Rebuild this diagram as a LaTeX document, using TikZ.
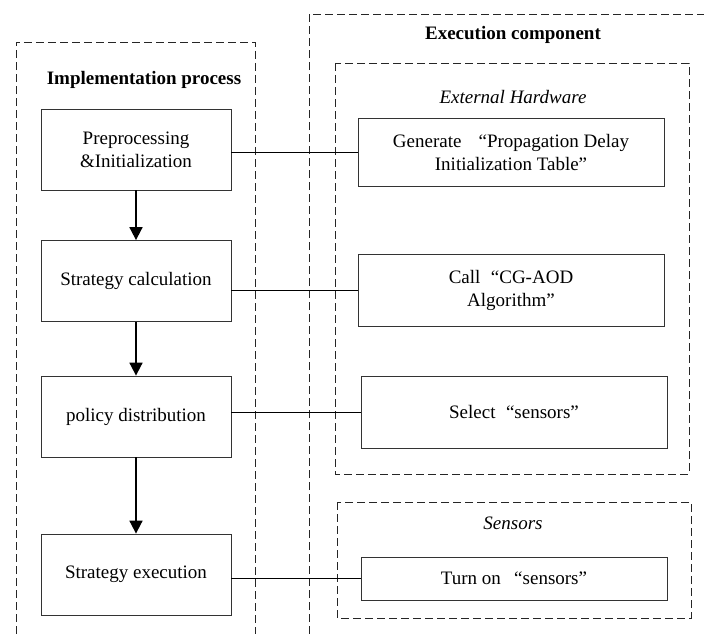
\documentclass[tikz,border=0pt]{standalone}
\usepackage{fontspec}
\setmainfont{Liberation Serif}
\usetikzlibrary{arrows.meta,positioning}

\begin{document}
\begin{tikzpicture}[x=1pt,y=-1pt]
\tikzset{
	step box/.style = {draw = black!80, line width = 0.8pt, fill = white, align = center, inner sep = 0, font = \fontsize{19}{23}\selectfont},
	left box/.style = {step box, minimum width = 190pt, minimum height = 81pt},
	right box/.style = {step box, minimum width = 306pt},
	group box/.style = {draw = black!85, line width = 0.8pt, dash pattern = on 8pt off 4pt},
	group title/.style = {font = \fontsize{19}{23}\selectfont\bfseries},
	part title/.style = {font = \fontsize{19}{23}\selectfont\itshape},
	flow/.style = {line width = 1.8pt, -{Triangle[length = 13pt, width = 13pt]}},
	link/.style = {line width = 0.8pt},
}
\useasboundingbox (0,0) rectangle (704,634);
% dashed groups
\draw[group box] (16,634) -- (16,42) -- (255,42) -- (255,634);
\draw[group box] (309,634) -- (309,14) -- (704,14);
\draw[group box] (335,63) rectangle (689,474);
\draw[group box] (337,502) rectangle (691,618);
\node(impl)[group title] at (144,80) {Implementation process};
\node(exe)[group title] at (513,35) {Execution component};
\node(hw)[part title] at (513,97) {External Hardware};
\node(sens)[part title] at (513,523) {Sensors};
% implementation steps
\node(pre)[left box] at (136,149.5) {Preprocessing\\\&Initialization};
\node(calc)[left box] at (136,281) {Strategy calculation};
\node(dist)[left box] at (136,416.5) {policy distribution};
\node(exec)[left box] at (136,574.5) {Strategy execution};
\draw[flow] (pre) -- (calc);
\draw[flow] (calc) -- (dist);
\draw[flow] (dist) -- (exec);
% execution components
\node(gen)[right box, minimum height = 68pt] at (511,152) {Generate\hspace{0.9em}“Propagation Delay\\Initialization Table”};
\node(call)[right box, minimum height = 72pt] at (511,290) {Call\hspace{0.55em}“CG-AOD\\Algorithm”};
\node(sel)[right box, minimum height = 72pt] at (514,412) {Select\hspace{0.55em}“sensors”};
\node(on)[right box, minimum height = 43pt] at (514,578.5) {Turn on\hspace{0.7em}“sensors”};
\draw[link] (pre.east |- gen.west) -- (gen.west);
\draw[link] (calc.east |- call.west) -- (call.west);
\draw[link] (dist.east |- sel.west) -- (sel.west);
\draw[link] (exec.east |- on.west) -- (on.west);
\end{tikzpicture}
\end{document}
